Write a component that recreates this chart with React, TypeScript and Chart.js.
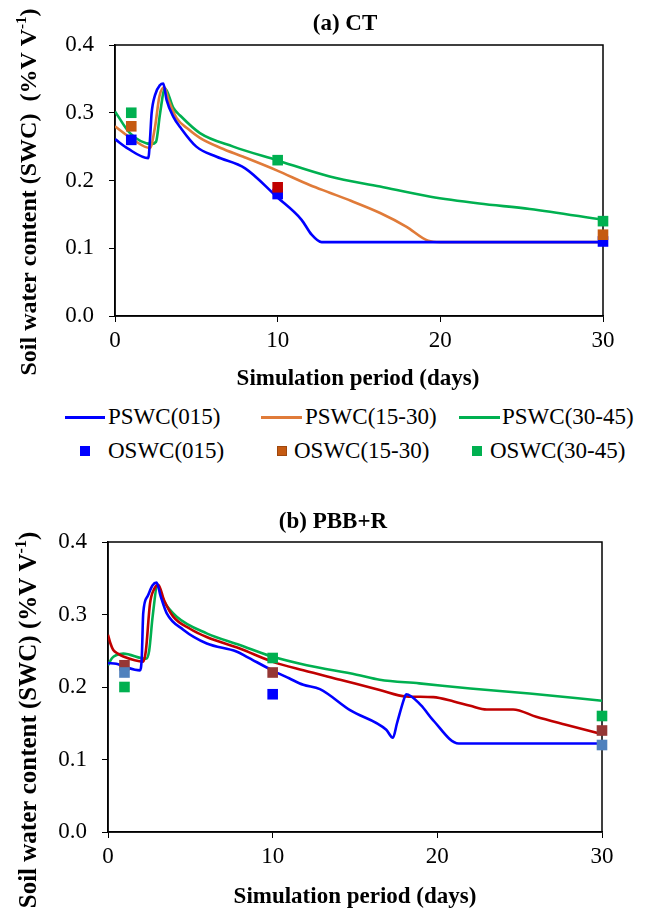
import React, { useEffect, useRef } from "react";
import { Chart, registerables } from "chart.js";

Chart.register(...registerables);

const SERIF = "'Liberation Serif', 'Times New Roman', Times, serif";

// ---------------- shared ----------------
const xTicks = [0, 10, 20, 30];
const yTicks = [0, 0.1, 0.2, 0.3, 0.4];
const obsDays = [1, 10, 30];

// ---------------- (a) CT ----------------
const ctDaysP015 = [0, 0.8, 2.05, 2.15, 2.25, 2.46, 2.77, 2.97, 3.17, 3.59, 4.0, 5.0, 6.25, 8.0, 9.94, 11.47, 12.09, 12.7, 13.5, 20, 30];
const ctP015 = [0.261, 0.247, 0.233, 0.26, 0.299, 0.326, 0.341, 0.343, 0.319, 0.294, 0.279, 0.25, 0.235, 0.218, 0.176, 0.142, 0.12, 0.109, 0.109, 0.109, 0.109];

const ctDaysP1530 = [0, 1.13, 2.15, 2.46, 2.73, 3.03, 3.3, 3.79, 4.5, 5.22, 6.5, 7.89, 9.94, 12, 13.2, 14.5, 16.3, 17.9, 19.25, 20, 30];
const ctP1530 = [0.28, 0.26, 0.248, 0.279, 0.324, 0.338, 0.318, 0.292, 0.276, 0.263, 0.248, 0.235, 0.215, 0.193, 0.182, 0.17, 0.152, 0.132, 0.111, 0.109, 0.109];

const ctDaysP3045 = [0, 0.92, 2.25, 2.52, 2.77, 3.07, 3.59, 4.0, 5.22, 7.27, 9.94, 13.2, 16.3, 19.4, 22.4, 25.5, 30];
const ctP3045 = [0.302, 0.27, 0.254, 0.257, 0.299, 0.336, 0.307, 0.296, 0.27, 0.25, 0.23, 0.206, 0.191, 0.176, 0.166, 0.158, 0.142];

const ctO015 = [0.26, 0.18, 0.11];
const ctO1530 = [0.28, 0.19, 0.12];
const ctO3045 = [0.3, 0.23, 0.14];

// ---------------- (b) PBB+R ----------------
const pbDaysP015 = [0, 0.5, 1.0, 1.94, 2.05, 2.14, 2.4, 2.7, 2.95, 3.2, 3.56, 4.57, 6.0, 7.8, 8.4, 9.97, 11.0, 11.86, 12.87, 14.7, 16.9, 17.3, 17.55, 18.0, 18.1, 19.0, 19.75, 21.3, 22, 30];
const pbP015 = [0.233, 0.232, 0.228, 0.223, 0.24, 0.302, 0.325, 0.34, 0.344, 0.325, 0.302, 0.279, 0.26, 0.249, 0.242, 0.223, 0.212, 0.203, 0.197, 0.168, 0.141, 0.13, 0.15, 0.185, 0.19, 0.175, 0.154, 0.122, 0.122, 0.122];

const pbDaysP1530 = [0, 0.15, 0.32, 0.6, 0.93, 2.14, 2.3, 2.55, 2.8, 3.05, 3.4, 3.96, 5.0, 5.99, 8.0, 9.97, 11.86, 14.1, 16.5, 18.1, 19.75, 21.0, 22.0, 23.0, 24.6, 26.0, 27.8, 30];
const pbP1530 = [0.272, 0.26, 0.251, 0.246, 0.242, 0.235, 0.25, 0.315, 0.335, 0.341, 0.32, 0.297, 0.28, 0.269, 0.253, 0.235, 0.223, 0.21, 0.196, 0.187, 0.186, 0.18, 0.174, 0.169, 0.169, 0.159, 0.148, 0.135];

const pbDaysP3045 = [0, 0.25, 0.52, 0.93, 2.31, 2.5, 2.71, 3.0, 3.4, 4.17, 5.99, 8.0, 9.97, 12.07, 15.1, 16.5, 18.9, 22, 25.6, 30];
const pbP3045 = [0.23, 0.24, 0.244, 0.246, 0.239, 0.25, 0.297, 0.339, 0.318, 0.297, 0.274, 0.258, 0.242, 0.23, 0.217, 0.21, 0.205, 0.198, 0.191, 0.181];

const pbO015 = [0.22, 0.19, 0.12];
const pbO1530 = [0.23, 0.22, 0.14];
const pbO3045 = [0.2, 0.24, 0.16];

// ---------------- colours ----------------
const BLUE = "#0000FF";
const ORANGE_LINE = "#E07B39";
const ORANGE_SQ = "#C55A11";
const DARK_RED = "#C00000";
const GREEN = "#00B050";
const BROWN_SQ = "#953735";
const LIGHT_BLUE = "#4F81BD";

const legendLines = ["PSWC(015)", "PSWC(15-30)", "PSWC(30-45)"];
const legendMarkers = ["OSWC(015)", "OSWC(15-30)", "OSWC(30-45)"];

const pts = (xs: number[], ys: number[]) => xs.map((x, i) => ({ x, y: ys[i] }));

const lineDs = (label: string, xs: number[], ys: number[], color: string) => ({
  type: "line",
  label,
  data: pts(xs, ys),
  borderColor: color,
  backgroundColor: color,
  borderWidth: 2.6,
  pointRadius: 0,
  pointHoverRadius: 0,
  cubicInterpolationMode: "monotone",
  fill: false,
  showLine: true,
  order: 2,
});

const obsDs = (label: string, ys: number[], colors: string[]) => ({
  type: "scatter",
  label,
  data: pts(obsDays, ys),
  pointStyle: "rect",
  pointRadius: 7.5,
  pointHoverRadius: 7.5,
  pointBackgroundColor: colors,
  pointBorderColor: colors,
  pointBorderWidth: 0,
  showLine: false,
  clip: false,
  order: 1,
});

type Seg = { t: string; sup?: boolean };
type TextItem = { segs: Seg[]; x: number; y: number; size: number; bold?: boolean; rotate?: number };

const makeTextPlugin = (items: TextItem[]) => ({
  id: "panelText",
  beforeDatasetsDraw(chart: any) {
    const ctx = chart.ctx;
    const a = chart.chartArea;
    ctx.save();
    ctx.strokeStyle = "#000";
    ctx.lineWidth = 1.5;
    ctx.strokeRect(a.left, a.top, a.right - a.left, a.bottom - a.top);
    ctx.restore();
  },
  afterDraw(chart: any) {
    const ctx = chart.ctx;
    for (const it of items) {
      ctx.save();
      ctx.translate(it.x, it.y);
      if (it.rotate) ctx.rotate(it.rotate);
      const w = it.bold ? "bold " : "";
      const mainFont = `${w}${it.size}px ${SERIF}`;
      const supFont = `${w}${Math.round(it.size * 0.62)}px ${SERIF}`;
      let total = 0;
      for (const s of it.segs) {
        ctx.font = s.sup ? supFont : mainFont;
        total += ctx.measureText(s.t).width;
      }
      let x = -total / 2;
      ctx.fillStyle = "#000";
      ctx.textBaseline = "alphabetic";
      ctx.textAlign = "left";
      const base = it.size * 0.33;
      for (const s of it.segs) {
        ctx.font = s.sup ? supFont : mainFont;
        ctx.fillText(s.t, x, s.sup ? base - it.size * 0.4 : base);
        x += ctx.measureText(s.t).width;
      }
      ctx.restore();
    }
  },
});

const makeConfig = (
  datasets: any[],
  pad: { top: number; right: number },
  yWidth: number,
  xHeight: number,
  items: TextItem[]
) => ({
  type: "scatter",
  data: { datasets },
  options: {
    responsive: false,
    animation: false,
    devicePixelRatio: 1,
    layout: { padding: { top: pad.top, right: pad.right, left: 0, bottom: 0 } },
    plugins: { legend: { display: false }, tooltip: { enabled: false }, title: { display: false } },
    events: [],
    scales: {
      x: {
        type: "linear",
        min: 0,
        max: 30,
        afterBuildTicks: (s: any) => {
          s.ticks = xTicks.map((v) => ({ value: v }));
        },
        afterFit: (s: any) => {
          s.height = xHeight;
        },
        grid: { drawOnChartArea: false, drawTicks: true, tickLength: 6, color: "#000", lineWidth: 1 },
        border: { display: true, color: "#000", width: 1.5 },
        ticks: {
          color: "#000",
          padding: 5,
          maxRotation: 0,
          autoSkip: false,
          font: { family: SERIF, size: 23 },
          callback: (v: any) => String(v),
        },
      },
      y: {
        type: "linear",
        min: 0,
        max: 0.4,
        afterBuildTicks: (s: any) => {
          s.ticks = yTicks.map((v) => ({ value: v }));
        },
        afterFit: (s: any) => {
          s.width = yWidth;
        },
        grid: { drawOnChartArea: false, drawTicks: true, tickLength: 6, color: "#000", lineWidth: 1 },
        border: { display: true, color: "#000", width: 1.5 },
        ticks: {
          color: "#000",
          padding: 15,
          autoSkip: false,
          font: { family: SERIF, size: 23 },
          callback: (v: any) => Number(v).toFixed(1),
        },
      },
    },
  },
  plugins: [makeTextPlugin(items)],
});

function ChartCanvas({ top, height, config }: { top: number; height: number; config: () => any }) {
  const ref = useRef<HTMLCanvasElement | null>(null);
  useEffect(() => {
    if (!ref.current) return;
    const chart = new Chart(ref.current, config());
    return () => chart.destroy();
  }, []);
  return (
    <canvas
      ref={ref}
      width={646}
      height={height}
      style={{ position: "absolute", left: 0, top, width: 646, height, display: "block" }}
    />
  );
}

const ySegs = (sep: string): Seg[] => [
  { t: `Soil water content (SWC)${sep}(%V V` },
  { t: "-1", sup: true },
  { t: ")" },
];

const configA = () =>
  makeConfig(
    [
      obsDs(legendMarkers[1], ctO1530, [ORANGE_SQ, DARK_RED, ORANGE_SQ]),
      obsDs(legendMarkers[0], ctO015, [BLUE, BLUE, BLUE]),
      obsDs(legendMarkers[2], ctO3045, [GREEN, GREEN, GREEN]),
      lineDs(legendLines[0], ctDaysP015, ctP015, BLUE),
      lineDs(legendLines[1], ctDaysP1530, ctP1530, ORANGE_LINE),
      lineDs(legendLines[2], ctDaysP3045, ctP3045, GREEN),
    ],
    { top: 45, right: 43 },
    115,
    84,
    [
      { segs: [{ t: "(a) CT" }], x: 345, y: 22, size: 23, bold: true },
      { segs: ySegs("  "), x: 28, y: 192, size: 24, bold: true, rotate: -Math.PI / 2 },
      { segs: [{ t: "Simulation period (days)" }], x: 358, y: 377, size: 23, bold: true },
    ]
  );

const configB = () =>
  makeConfig(
    [
      obsDs(legendMarkers[0], pbO015, [LIGHT_BLUE, BLUE, LIGHT_BLUE]),
      obsDs(legendMarkers[1], pbO1530, [BROWN_SQ, BROWN_SQ, BROWN_SQ]),
      obsDs(legendMarkers[2], pbO3045, [GREEN, GREEN, GREEN]),
      lineDs(legendLines[0], pbDaysP015, pbP015, BLUE),
      lineDs(legendLines[1], pbDaysP1530, pbP1530, DARK_RED),
      lineDs(legendLines[2], pbDaysP3045, pbP3045, GREEN),
    ],
    { top: 72, right: 44 },
    108,
    76,
    [
      { segs: [{ t: "(b) PBB+R" }], x: 333, y: 50, size: 23, bold: true },
      { segs: ySegs(" "), x: 28, y: 250, size: 25, bold: true, rotate: -Math.PI / 2 },
      { segs: [{ t: "Simulation period (days)" }], x: 355, y: 425, size: 23, bold: true },
    ]
  );

const legendText: React.CSSProperties = {
  position: "absolute",
  fontFamily: SERIF,
  fontSize: 23,
  lineHeight: "26px",
  color: "#000",
  whiteSpace: "nowrap",
};

function Legend() {
  const lineItems = [
    { x0: 65, x1: 105, tx: 108, color: BLUE, label: legendLines[0] },
    { x0: 261, x1: 302, tx: 305, color: ORANGE_LINE, label: legendLines[1] },
    { x0: 459, x1: 500, tx: 502, color: GREEN, label: legendLines[2] },
  ];
  const sqItems = [
    { cx: 85, tx: 108, color: BLUE, border: BLUE, label: legendMarkers[0] },
    { cx: 282, tx: 294, color: ORANGE_SQ, border: "#9E480E", label: legendMarkers[1] },
    { cx: 477, tx: 490, color: GREEN, border: GREEN, label: legendMarkers[2] },
  ];
  const r1 = 417;
  const r2 = 451;
  return (
    <>
      {lineItems.map((it) => (
        <React.Fragment key={it.label}>
          <div
            style={{
              position: "absolute",
              left: it.x0,
              top: r1 - 1.5,
              width: it.x1 - it.x0,
              height: 3,
              background: it.color,
            }}
          />
          <div style={{ ...legendText, left: it.tx, top: r1 - 13 }}>{it.label}</div>
        </React.Fragment>
      ))}
      {sqItems.map((it) => (
        <React.Fragment key={it.label}>
          <div
            style={{
              position: "absolute",
              left: it.cx - 5,
              top: r2 - 5,
              width: 10,
              height: 10,
              boxSizing: "border-box",
              background: it.color,
              border: `1px solid ${it.border}`,
            }}
          />
          <div style={{ ...legendText, left: it.tx, top: r2 - 13 }}>{it.label}</div>
        </React.Fragment>
      ))}
    </>
  );
}

export default function App() {
  return (
    <div style={{ position: "absolute", left: 0, top: 0, width: 646, height: 908, background: "#fff" }}>
      <ChartCanvas top={0} height={400} config={configA} />
      <Legend />
      <ChartCanvas top={470} height={438} config={configB} />
    </div>
  );
}
